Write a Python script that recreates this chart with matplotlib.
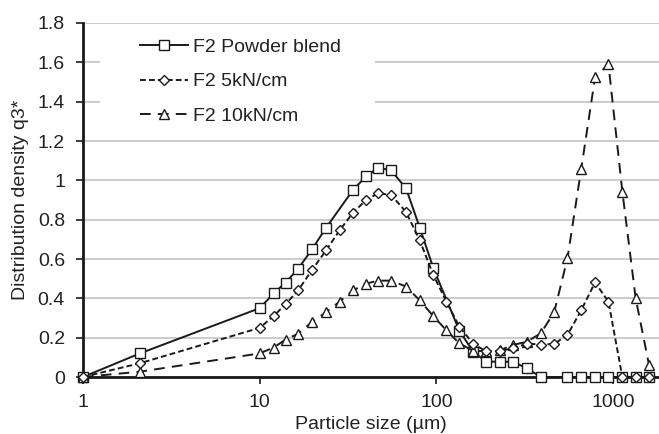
import matplotlib.pyplot as plt
from matplotlib.patches import Rectangle
from matplotlib.ticker import FixedLocator, FixedFormatter, NullLocator

plt.rcParams['font.family'] = ['Liberation Sans', 'DejaVu Sans']

# particle sizes (um)
sizes = [1, 2.1, 10, 12, 14, 16.5, 19.8, 23.8, 28.3, 33.7, 40, 47, 55.5, 67.3,
         80.5, 96, 114, 135, 162, 192, 228, 272, 326, 390, 464, 552, 661, 791,
         942, 1129, 1343, 1597]
# the powder blend series has no point at 28, 114 and 464 um
sizes_blend = [1, 2.1, 10, 12, 14, 16.5, 19.8, 23.8, 33.7, 40, 47, 55.5, 67.3,
               80.5, 96, 135, 162, 192, 228, 272, 326, 390, 552, 661, 791, 942,
               1129, 1343, 1597]

q3_blend = [0, 0.12, 0.35, 0.425, 0.48, 0.55, 0.65, 0.76, 0.95, 1.02, 1.065,
            1.05, 0.96, 0.76, 0.555, 0.235, 0.127, 0.078, 0.078, 0.077, 0.044,
            0.0, 0, 0, 0, 0, 0, 0, 0]
q3_5kn = [0, 0.07, 0.25, 0.31, 0.37, 0.44, 0.545, 0.645, 0.745, 0.835, 0.9,
          0.935, 0.925, 0.84, 0.695, 0.52, 0.383, 0.256, 0.168, 0.13, 0.132,
          0.146, 0.17, 0.165, 0.168, 0.214, 0.34, 0.481, 0.383, 0, 0, 0]
q3_10kn = [0, 0.027, 0.12, 0.15, 0.19, 0.22, 0.28, 0.33, 0.383, 0.44, 0.475,
           0.49, 0.49, 0.46, 0.39, 0.31, 0.237, 0.171, 0.132, 0.132, 0.135,
           0.163, 0.18, 0.222, 0.329, 0.603, 1.06, 1.524, 1.59, 0.942, 0.4,
           0.063]

labels = ['F2 Powder blend', 'F2 5kN/cm', 'F2 10kN/cm']
x_ticks = [1, 10, 100, 1000]
y_ticks = [0, 0.2, 0.4, 0.6, 0.8, 1, 1.2, 1.4, 1.6, 1.8]

ink = '#1a1a1a'
fs = 14
fig = plt.figure(figsize=(6.59, 4.34), dpi=100)
ax = fig.add_axes([83 / 659, 57 / 434, 576 / 659, 354 / 434])

ax.plot(sizes_blend, q3_blend, color=ink, lw=1.4, marker='s', ms=7,
        mfc='white', mec=ink, mew=1.0, label=labels[0], clip_on=False, zorder=3)
ax.plot(sizes, q3_5kn, color=ink, lw=1.4, ls=(0, (3, 1.6)), marker='D', ms=5,
        mfc='white', mec=ink, mew=1.0, label=labels[1], clip_on=False, zorder=4)
ax.plot(sizes, q3_10kn, color=ink, lw=1.4, ls=(0, (5.5, 3.7)), marker='^', ms=7.5,
        mfc='white', mec=ink, mew=1.0, label=labels[2], clip_on=False, zorder=3)

ax.set_xscale('log')
ax.set_xlim(1, 1820)
ax.set_ylim(0, 1.8)
ax.xaxis.set_major_locator(FixedLocator(x_ticks))
ax.xaxis.set_major_formatter(FixedFormatter([str(t) for t in x_ticks]))
ax.xaxis.set_minor_locator(NullLocator())
ax.set_yticks(y_ticks)
ax.set_yticklabels(['{:g}'.format(t) for t in y_ticks])

ax.set_axisbelow(True)
ax.yaxis.grid(True, color='#c8c8c8', lw=1.3)
for side in ['top', 'right']:
    ax.spines[side].set_visible(False)
for side in ['left', 'bottom']:
    ax.spines[side].set_linewidth(2.0)
    ax.spines[side].set_color(ink)

ax.tick_params(axis='both', direction='out', length=5, width=1.2, color=ink,
               labelcolor='#222222', labelsize=fs)
ax.tick_params(axis='y', pad=8)
ax.tick_params(axis='x', pad=7)

ax.set_xlabel('Particle size (\u00b5m)', fontsize=fs, color='#222222', labelpad=4)
ax.set_ylabel('Distribution density q3*', fontsize=fs, color='#222222', labelpad=6)

# white legend area hides the gridlines behind it
ax.add_patch(Rectangle((0.03, 1.27), 0.477, 0.46, transform=ax.get_yaxis_transform(),
                       facecolor='white', edgecolor='none', zorder=1))
ax.legend(loc='upper left', bbox_to_anchor=(140 / 659, 1 - 38 / 434),
          bbox_transform=fig.transFigure, frameon=False, fontsize=fs,
          handlelength=2.45, handletextpad=0.3, labelspacing=0.88,
          borderpad=0, borderaxespad=0, labelcolor='#222222')

fig.savefig('out.png', dpi=100)
